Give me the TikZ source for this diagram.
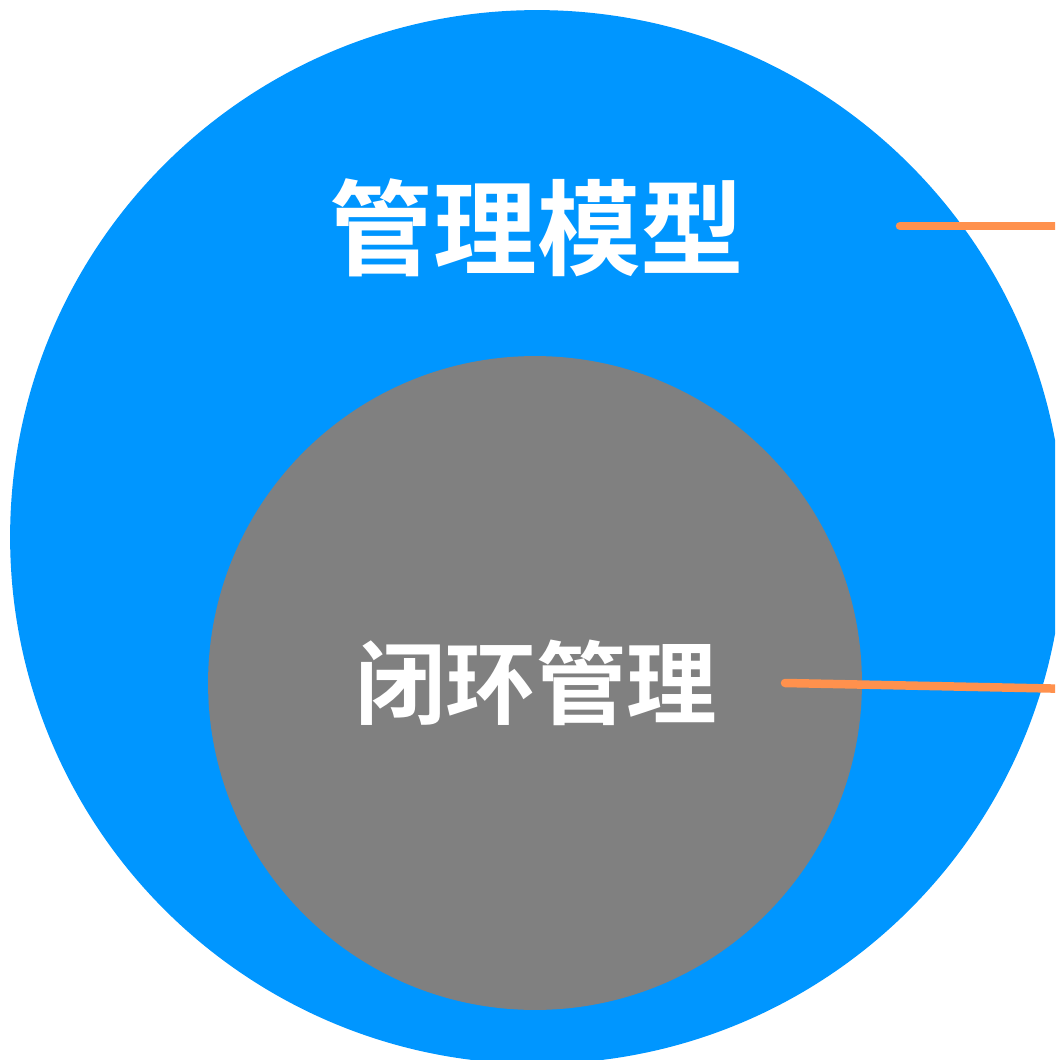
\documentclass[tikz,border=0pt]{standalone}
\usepackage{fontspec}
\usepackage{xcolor}
\usetikzlibrary{calc, shapes, positioning}
\newfontfamily\cjk{Noto Sans CJK SC Bold}
\definecolor{modelblue}{HTML}{0096FF}
\definecolor{loopgray}{HTML}{808080}
\definecolor{leadorange}{HTML}{FF914D}

\begin{document}
\begin{tikzpicture}[x=0.02cm, y=-0.02cm,
	disc/.style={shape=circle, inner sep=0pt, draw=none},
	title/.style={text=white, font=\cjk, inner sep=0pt},
	lead/.style={line width=0.17cm, draw=leadorange, line cap=round}]
	\clip (0,0) rectangle (1055,1060);
	\fill[white] (0,0) rectangle (1055,1060);
	\node[disc, fill=modelblue, minimum size=21.08cm] (model) at (537,537) {};
	\node[disc, fill=loopgray, minimum size=13.08cm] (loop) at (535,683) {};
	\node[title, font=\cjk\fontsize{59}{59}\selectfont] (modeltext) at (537,228) {管理模型};
	\node[title, font=\cjk\fontsize{51.5}{51.5}\selectfont] (looptext) at (536,683) {闭环管理};
	% leader lines
	\coordinate (modelin) at (900,226);
	\coordinate (modelout) at (1075,226);
	\coordinate (loopin) at (785,683);
	\coordinate (loopout) at (1075,689);
	\draw[lead] (modelin) -- (modelout);
	\draw[lead] (loopin) -- (loopout);
\end{tikzpicture}
\end{document}
